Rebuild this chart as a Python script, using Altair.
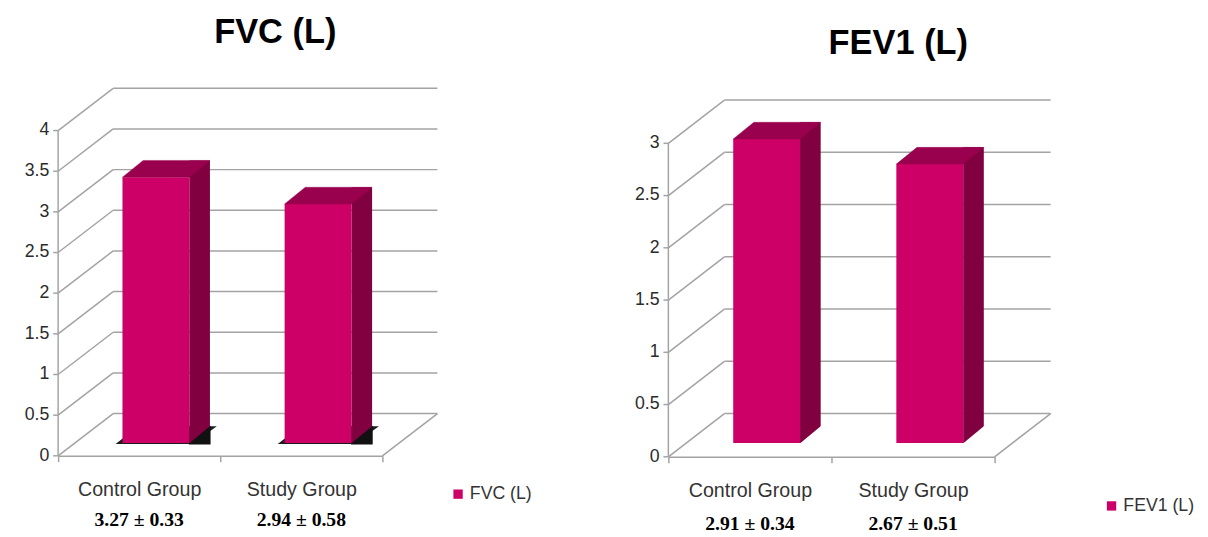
import altair as alt
import pandas as pd

# ---- data ----
categories = ["Control Group", "Study Group"]
fvc_values = [3.27, 2.94]
fvc_labels = ["3.27 \u00b1 0.33", "2.94 \u00b1 0.58"]
fev1_values = [2.91, 2.67]
fev1_labels = ["2.91 \u00b1 0.34", "2.67 \u00b1 0.51"]
fvc_ticks = [0, 0.5, 1, 1.5, 2, 2.5, 3, 3.5, 4]
fvc_tick_labels = ["0", "0.5", "1", "1.5", "2", "2.5", "3", "3.5", "4"]
fev1_ticks = [0, 0.5, 1, 1.5, 2, 2.5, 3]
fev1_tick_labels = ["0", "0.5", "1", "1.5", "2", "2.5", "3"]

FRONT = "#CC0066"
TOP = "#99004D"
SIDE = "#800040"
GRID = "#A3A3A3"
FONT = "Liberation Sans"


def path(points, unit=50.0):
    pts = [f"{x / unit:.4f},{y / unit:.4f}" for x, y in points]
    return "M" + " L".join(pts) + " Z"


def panel(title, series, values, labels, ticks, tick_labels, ymax, width, height, yrange_top,
          bar_dy, depth_dx, depth_dy, shadow, title_dx, title_offset,
          leg_x, leg_y, val_y):
    df = pd.DataFrame({"cat": categories, "v": values, "lab": labels, "series": series})
    gdf = pd.DataFrame({"t": ticks, "tl": tick_labels})
    ysc = alt.Scale(domain=[0, ymax], range=[height, yrange_top], nice=False, zero=True)
    xsc = alt.Scale(domain=categories, paddingInner=0, paddingOuter=0)
    X = alt.X("cat:N", scale=xsc, sort=categories,
              axis=alt.Axis(title=None, labelAngle=0, tickBand="extent", domainColor=GRID,
                            domainWidth=1.5, tickColor=GRID, tickWidth=1.5, tickSize=6,
                            labelFont=FONT, labelFontSize=20, labelColor="#333333",
                            labelPadding=18, grid=False))
    Yg = alt.Y("t:Q", scale=ysc, axis=None)
    Yv = alt.Y("v:Q", scale=ysc, axis=None)

    base_g = alt.Chart(gdf)
    diag = base_g.mark_rule(color=GRID, strokeWidth=1.5, y2Offset=depth_dy).encode(
        x=alt.value(0), x2=alt.value(depth_dx), y=Yg, y2="t:Q")
    back = base_g.mark_rule(color=GRID, strokeWidth=1.5, yOffset=depth_dy).encode(
        x=alt.value(depth_dx), x2=alt.value(width + depth_dx), y=Yg)
    floor = alt.Chart(pd.DataFrame({"t": [0]})).mark_rule(
        color=GRID, strokeWidth=1.5, y2Offset=depth_dy).encode(
        x=alt.value(width), x2=alt.value(width + depth_dx), y=Yg, y2="t:Q")
    # y axis (drawn with marks on the y scale)
    ydomain = alt.Chart(pd.DataFrame({"t": [0]})).mark_rule(color=GRID, strokeWidth=1.5).encode(
        x=alt.value(0), y=Yg, y2=alt.datum(ymax))
    yticks = base_g.mark_rule(color=GRID, strokeWidth=1.5).encode(
        x=alt.value(-5), x2=alt.value(0), y=Yg)
    ylabels = base_g.mark_text(font=FONT, fontSize=18, color="#2b2b2b", align="right",
                               baseline="middle", dx=-9).encode(
        x=alt.value(0), y=Yg, text="tl:N")

    bw, sw, sh, cx = 68, 21, 17, 17
    hw = bw / 2
    top_path = path([(-hw, 0), (hw, 0), (hw + sw, -sh), (-hw + sw, -sh)])
    tri_path = path([(hw - 0.5, 0.8), (hw + sw + 0.6, -sh - 0.6), (hw + sw + 0.6, 1.5), (hw - 0.5, 1.5)])
    shadow_path = path([(-hw - 7, 1), (hw + 3, 1), (hw + 28, -sh), (-hw + 16, -sh)])

    base = alt.Chart(df)
    layers = [diag, back, floor, ydomain, yticks, ylabels]
    if shadow:
        layers.append(base.mark_point(shape=shadow_path, size=10000, filled=True, color="#111111",
                                      opacity=0.95, xOffset=cx, yOffset=bar_dy, strokeWidth=0)
                      .encode(x=X, y=alt.Y("zero:Q", scale=ysc, axis=None))
                      .transform_calculate(zero="0"))
    side = base.mark_bar(size=sw, color=SIDE, xOffset=cx + hw + sw / 2,
                         yOffset=bar_dy - sh, y2Offset=bar_dy).encode(
        x=X, y=Yv, y2=alt.datum(0))
    tri = base.mark_point(shape=tri_path, size=10000, filled=True,
                          color="#111111" if shadow else "white", opacity=1,
                          xOffset=cx, yOffset=bar_dy, strokeWidth=0).encode(
        x=X, y=alt.Y("zero:Q", scale=ysc, axis=None)).transform_calculate(zero="0")
    front = base.mark_bar(size=bw, xOffset=cx, yOffset=bar_dy, y2Offset=bar_dy).encode(
        x=X, y=Yv, y2=alt.datum(0),
        color=alt.Color("series:N", scale=alt.Scale(range=[FRONT]),
                        legend=alt.Legend(title=None, orient="none", legendX=leg_x, legendY=leg_y,
                                          symbolType="square", symbolSize=90, symbolStrokeWidth=0,
                                          labelFont=FONT, labelFontSize=18, labelColor="#333333",
                                          labelOffset=3)))
    top = base.mark_point(shape=top_path, size=10000, filled=True, color=TOP, opacity=1,
                          xOffset=cx, yOffset=bar_dy, stroke=TOP, strokeWidth=0.4).encode(
        x=X, y=Yv)
    vals = base.mark_text(font="Liberation Serif", fontWeight="bold", fontSize=20,
                          color="#000000", baseline="middle").encode(
        x=X, y=alt.value(val_y), text="lab:N")
    layers += [side, tri, front, top, vals]
    return alt.layer(*layers).properties(
        width=width, height=height,
        title=alt.TitleParams(title, font=FONT, fontSize=35, fontWeight="bold", color="#000000",
                              dx=title_dx, offset=title_offset, anchor="middle"))


left = panel("FVC (L)", "FVC (L)", fvc_values, fvc_labels, fvc_ticks, fvc_tick_labels, 4,
             330, 374, 43, -13, 56, -43, True, 56, 38, 398, 404, 439)
right = panel("FEV1 (L)", "FEV1 (L)", fev1_values, fev1_labels, fev1_ticks, fev1_tick_labels, 3,
              332, 375, 56, -14, 57, -44, False, 68, 28, 442, 416, 443)

chart = alt.hconcat(left, right, spacing=291, bounds="flush").resolve_scale(
    color="independent").resolve_legend(color="independent").properties(
    padding={"left": 16, "top": 3, "right": 5, "bottom": 5}, background="white"
).configure_view(stroke=None)

chart.save("out.html", embed_options={"renderer": "svg", "actions": False})
